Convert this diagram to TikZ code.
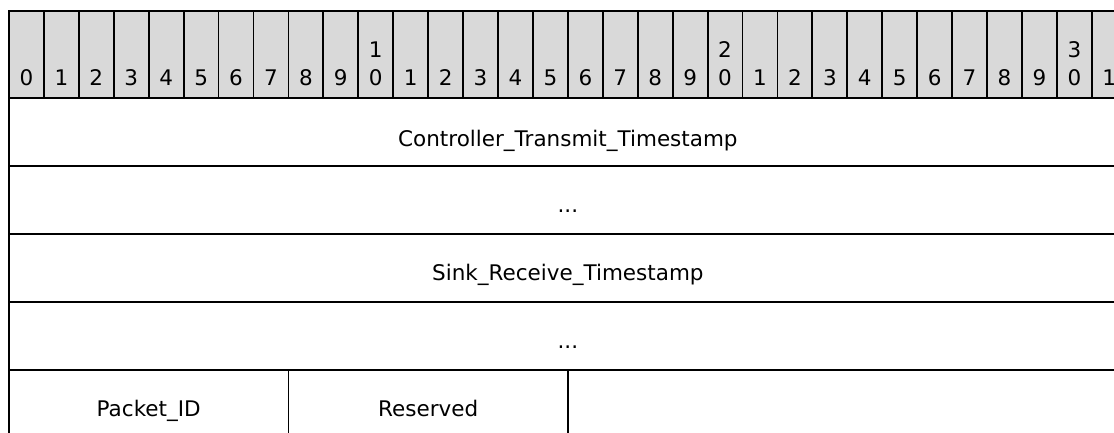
\documentclass[tikz,border=0pt]{standalone}
\usepackage{fontspec}
\setmainfont{DejaVu Sans}
\definecolor{hdrgray}{RGB}{217,217,217}
\begin{document}
\begin{tikzpicture}[x=1pt,y=-1pt,
  hdrcell/.style={draw=black, line width=1.8pt, fill=hdrgray, minimum width=34.93pt, minimum height=87pt, inner sep=0pt, outer sep=0pt, anchor=north west},
  fieldcell/.style={draw=black, line width=1.8pt, minimum height=68pt, inner sep=0pt, outer sep=0pt, anchor=north west},
  lbl/.style={anchor=base, inner sep=0pt, font=\fontsize{21.5}{28}\selectfont, text=black}]
\useasboundingbox (0,0) rectangle (1114,432);
% header row of bit numbers
\foreach \i in {0,...,31}
  \node[hdrcell] (h\i) at ({9+34.93*\i},11) {};
\foreach \i in {0,...,31}{
  \pgfmathtruncatemacro{\d}{mod(\i,10)}
  \node[lbl] (d\i) at ({9+34.93*\i+17.465},85) {\d};
}
\foreach \i/\t in {10/1,20/2,30/3}
  \node[lbl] (t\i) at ({9+34.93*\i+17.465},57) {\t};
% full-width rows
\node[fieldcell, minimum width=1117.76pt] (r1) at (9,98) {};
\node[fieldcell, minimum width=1117.76pt] (r2) at (9,166) {};
\node[fieldcell, minimum width=1117.76pt] (r3) at (9,234) {};
\node[fieldcell, minimum width=1117.76pt] (r4) at (9,302) {};
% last row
\node[fieldcell, minimum width=279.44pt] (p1) at (9,370) {};
\node[fieldcell, minimum width=279.44pt] (p2) at (288.44,370) {};
\node[fieldcell, minimum width=558.88pt] (p3) at (567.88,370) {};
% labels
\node[lbl] (l1) at (567.88,146.5) {Controller\_Transmit\_Timestamp};
\node[lbl] (l2) at (567.88,212.5) {...};
\node[lbl] (l3) at (567.88,280.5) {Sink\_Receive\_Timestamp};
\node[lbl] (l4) at (567.88,348.5) {...};
\node[lbl] (l5) at (148.72,416) {Packet\_ID};
\node[lbl] (l6) at (428.16,416) {Reserved};
\end{tikzpicture}
\end{document}
